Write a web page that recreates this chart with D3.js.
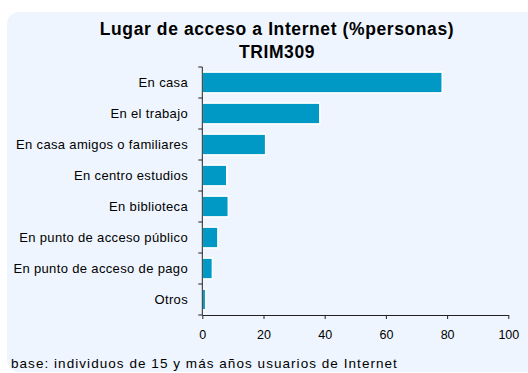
<!DOCTYPE html>
<html><head><meta charset="utf-8">
<script src="https://cdn.jsdelivr.net/npm/d3@7"></script>
<style>body{margin:0;background:#fff;}svg{display:block;font-family:"Liberation Sans",Arial,sans-serif;}</style>
</head><body>
<svg id="c" width="528" height="373"></svg>
<script>
const categories = ["En casa","En el trabajo","En casa amigos o familiares","En centro estudios","En biblioteca","En punto de acceso público","En punto de acceso de pago","Otros"];
const values = [78.4, 38.4, 20.7, 8.0, 8.5, 5.1, 3.3, 1.1];
const xTicks = [0, 20, 40, 60, 80, 100];
const titleLines = ["Lugar de acceso a Internet (%personas)", "TRIM309"];
const footnote = "base: individuos de 15 y más años usuarios de Internet";

const svg = d3.select("#c");
svg.append("rect").attr("x",7).attr("y",12).attr("width",540).attr("height",360).attr("rx",12).attr("fill","#eef5fe");

const m = {left:202.3, right:508.3, top:67, bottom:315};
const x = d3.scaleLinear().domain([0,100]).range([m.left, m.right]);
const y = d3.scaleBand().domain(categories).range([m.top, m.bottom]).paddingInner(0.33).paddingOuter(0.165);

svg.selectAll("text.title").data(titleLines).join("text")
  .attr("x",277).attr("y",(d,i)=>35+i*23).attr("text-anchor","middle")
  .attr("font-weight","bold").attr("font-size",17.5).attr("letter-spacing",0.6).attr("fill","#000").text(d=>d);

svg.append("g").selectAll("rect").data(values).join("rect")
  .attr("x", x(0)).attr("y",(d,i)=>y(categories[i]))
  .attr("width", d=>x(d)-x(0)).attr("height", y.bandwidth())
  .attr("fill","#0099c5").attr("stroke","#ffffff").attr("stroke-width",1.5);

const gy = svg.append("g");
gy.append("line").attr("x1",m.left).attr("x2",m.left).attr("y1",m.top).attr("y2",m.bottom).attr("stroke","#222");
const bounds = d3.range(categories.length+1).map(i=>m.top + i*(m.bottom-m.top)/categories.length);
gy.selectAll("line.t").data(bounds).join("line").attr("class","t")
  .attr("x1",m.left-4).attr("x2",m.left).attr("y1",d=>d).attr("y2",d=>d).attr("stroke","#222");
gy.selectAll("text").data(categories).join("text")
  .attr("x",188).attr("y",(d,i)=>(bounds[i]+bounds[i+1])/2+4.5).attr("text-anchor","end")
  .attr("font-size",13).attr("letter-spacing",0.35).attr("fill","#000").text(d=>d);

const gx = svg.append("g").attr("transform",`translate(0,${m.bottom})`)
  .call(d3.axisBottom(x).tickValues(xTicks).tickSize(4).tickSizeOuter(0).tickPadding(11));
gx.select(".domain").attr("stroke","#222");
gx.selectAll(".tick line").attr("stroke","#222");
gx.selectAll(".tick text").attr("font-size",12.5).attr("fill","#000").attr("font-family","Liberation Sans, Arial, sans-serif");

svg.append("text").attr("x",11).attr("y",368).attr("font-size",13.5).attr("letter-spacing",1.05).attr("fill","#000").text(footnote);
</script>
</body></html>
